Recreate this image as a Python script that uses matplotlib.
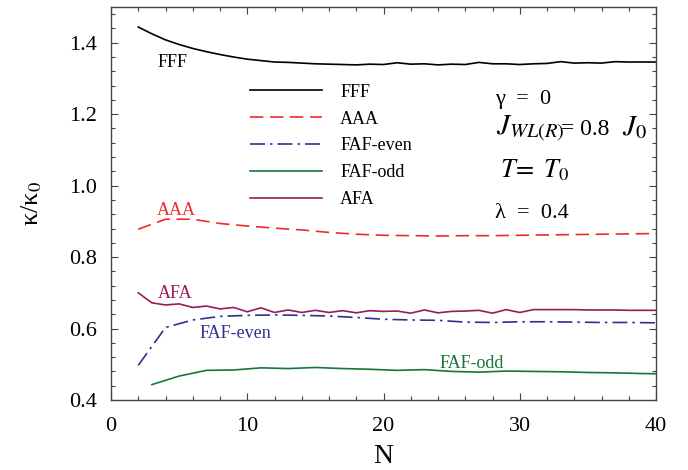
import matplotlib
matplotlib.use("Agg")
import matplotlib.pyplot as plt
from matplotlib.ticker import MultipleLocator, FormatStrFormatter

plt.rcParams['font.family'] = ['Liberation Serif', 'DejaVu Serif']
plt.rcParams['mathtext.fontset'] = 'stix'

# chain length N for each configuration
n_fff = list(range(2, 41))
n_aaa = list(range(2, 41, 2))
n_even = list(range(2, 41, 2))
n_odd = list(range(3, 42, 2))
n_afa = list(range(2, 41))

fff = [1.444, 1.425, 1.408, 1.395, 1.384, 1.375, 1.367, 1.360, 1.354, 1.350,
       1.346, 1.345, 1.343, 1.341, 1.340, 1.339, 1.338, 1.340, 1.339, 1.344,
       1.340, 1.341, 1.338, 1.340, 1.339, 1.345, 1.341, 1.341, 1.339, 1.341,
       1.342, 1.347, 1.343, 1.344, 1.343, 1.347, 1.346, 1.346, 1.346]
aaa = [0.878, 0.906, 0.906, 0.894, 0.887, 0.881, 0.876, 0.869, 0.864, 0.861,
       0.860, 0.859, 0.860, 0.860, 0.861, 0.862, 0.863, 0.864, 0.865, 0.866]
faf_even = [0.497, 0.603, 0.624, 0.634, 0.637, 0.638, 0.637, 0.635, 0.631, 0.626,
            0.624, 0.623, 0.618, 0.617, 0.619, 0.619, 0.618, 0.617, 0.617, 0.616]
faf_odd = [0.443, 0.467, 0.483, 0.484, 0.490, 0.488, 0.491, 0.488, 0.486, 0.483,
           0.485, 0.480, 0.478, 0.481, 0.480, 0.479, 0.477, 0.476, 0.474, 0.473]
afa = [0.700, 0.672, 0.666, 0.669, 0.659, 0.663, 0.655, 0.659, 0.647, 0.658,
       0.645, 0.652, 0.645, 0.651, 0.645, 0.650, 0.644, 0.650, 0.648, 0.649,
       0.643, 0.652, 0.644, 0.648, 0.649, 0.651, 0.643, 0.653, 0.645, 0.653,
       0.653, 0.653, 0.653, 0.652, 0.652, 0.652, 0.651, 0.651, 0.651]

c_fff = 'black'
c_aaa = '#ee2a2a'
c_even = '#2e3192'
c_odd = '#17773b'
c_afa = '#9b1a5a'

fig = plt.figure(figsize=(6.88, 4.70), dpi=100)
ax = fig.add_axes([111 / 688, 1 - 400 / 470, 545 / 688, 393 / 470])

lw = 1.2
ax.plot(n_fff, fff, color=c_fff, lw=lw, label='FFF')
ax.plot(n_aaa, aaa, color=c_aaa, lw=lw, ls=(0, (8, 4)), label='AAA')
ax.plot(n_even, faf_even, color=c_even, lw=lw, ls=(0, (9, 3, 1.5, 3)), label='FAF-even')
ax.plot(n_odd, faf_odd, color=c_odd, lw=lw, label='FAF-odd')
ax.plot(n_afa, afa, color=c_afa, lw=lw, label='AFA')

ax.set_xlim(0, 40)
ax.set_ylim(0.4, 1.5)
ax.xaxis.set_major_locator(MultipleLocator(10))
ax.xaxis.set_minor_locator(MultipleLocator(2))
ax.yaxis.set_major_locator(MultipleLocator(0.2))
ax.yaxis.set_minor_locator(MultipleLocator(0.04))
ax.yaxis.set_major_formatter(FormatStrFormatter('%.1f'))
ax.tick_params(which='both', direction='in', top=True, right=True,
               labelsize=16, color='#444444', width=0.8)
ax.tick_params(which='major', length=5)
ax.tick_params(which='minor', length=3)
ax.tick_params(axis='y', pad=10)
ax.tick_params(axis='x', pad=12)
for s in ax.spines.values():
    s.set_color('#444444')
    s.set_linewidth(1.0)

ax.set_xlabel('N', fontsize=20, labelpad=6)
ax.set_ylabel('κ/κ$_0$', fontsize=19, labelpad=18)

# curve labels
ax.text(3.45, 1.346, 'FFF', color=c_fff, fontsize=13, va='center')
ax.text(3.4, 0.931, 'AAA', color=c_aaa, fontsize=13, va='center')
ax.text(3.45, 0.699, 'AFA', color=c_afa, fontsize=13, va='center')
ax.text(6.5, 0.585, 'FAF-even', color=c_even, fontsize=13, va='center')
ax.text(24.1, 0.502, 'FAF-odd', color=c_odd, fontsize=13, va='center')

ax.legend(loc='upper left', bbox_to_anchor=(0.255, 0.805), frameon=False,
          fontsize=13, handlelength=4.0, handletextpad=1.0, labelspacing=0.55,
          borderpad=0, borderaxespad=0)

# parameter annotations
ax.text(0.705, 0.753, 'γ  =  0', transform=ax.transAxes, fontsize=16)
ax.text(0.706, 0.674, '$J_{WL(R)}$', transform=ax.transAxes, fontsize=21)
ax.text(0.826, 0.674, '= 0.8', transform=ax.transAxes, fontsize=17)
ax.text(0.937, 0.674, '$J_0$', transform=ax.transAxes, fontsize=21)
ax.text(0.713, 0.566, r'$T\!=\ T_0$', transform=ax.transAxes, fontsize=19)
ax.text(0.705, 0.463, 'λ  =  0.4', transform=ax.transAxes, fontsize=16)

fig.savefig('out.png', dpi=100)
